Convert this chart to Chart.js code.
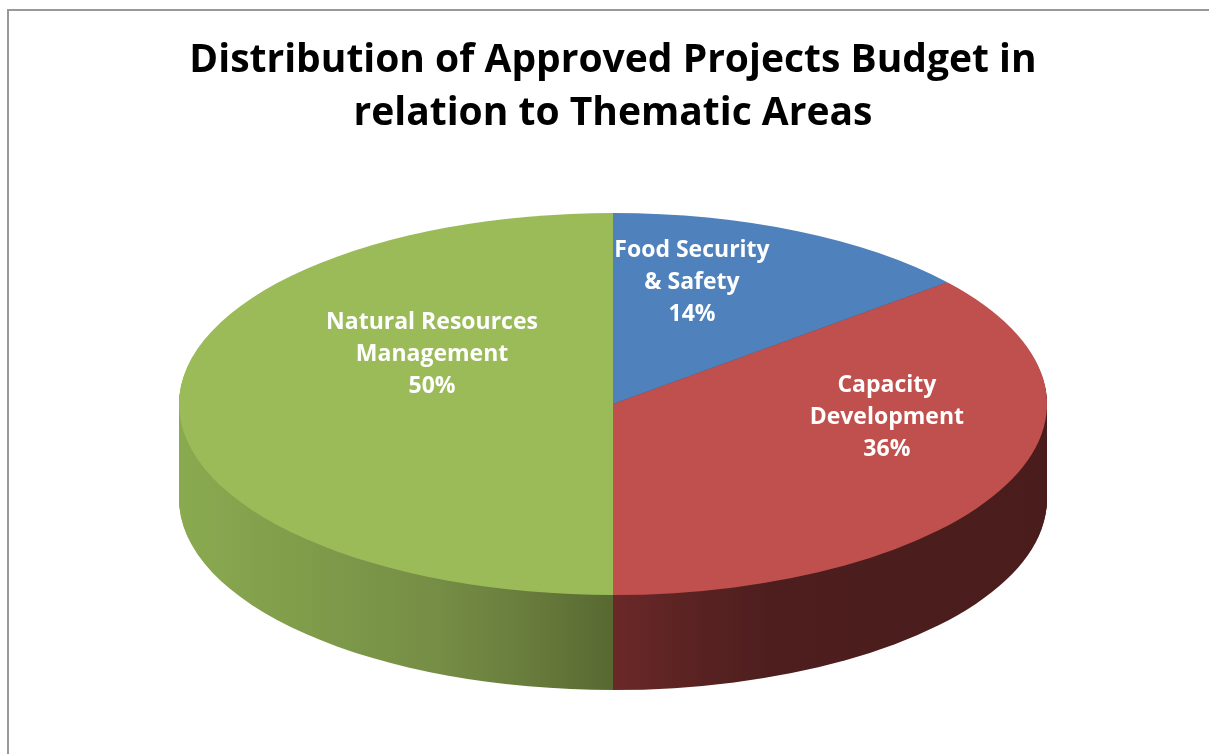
<!DOCTYPE html>
<html>
<head>
<meta charset="utf-8">
<script src="https://cdn.jsdelivr.net/npm/chart.js@4.4.1/dist/chart.umd.min.js"></script>
<style>
  html, body { margin: 0; padding: 0; background: #fff; overflow: hidden; }
  #wrap { position: absolute; left: 0; top: 0; width: 1209px; height: 754px; }
  #frame { position: absolute; left: 7px; top: 9px; width: 1260px; height: 800px; border: 2px solid #999; box-sizing: border-box; }
  canvas { position: absolute; left: 0; top: 0; }
</style>
</head>
<body>
<div id="wrap">
  <div id="frame"></div>
  <canvas id="c" width="1209" height="754"></canvas>
</div>
<script>
// ---- data ----
const titleLines = ['Distribution of Approved Projects Budget in', 'relation to Thematic Areas'];
const categories = ['Food Security & Safety', 'Capacity Development', 'Natural Resources Management'];
const labelLines = [['Food Security', '& Safety'], ['Capacity', 'Development'], ['Natural Resources', 'Management']];
const shares = [14, 36, 50];
const topColors = ['#4f81bd', '#c0504d', '#9bbb59'];

// ---- styling of the 3D projection ----
const RX = 434, RY = 191, DEPTH = 95;
const sideStops = [
  [[0, '#3a5f8c'], [1, '#2e4c70']],
  [[0.5, '#6b2828'], [0.58, '#5c2323'], [0.68, '#4e1e1e'], [1, '#4a1c1c']],
  [[0, '#8aaa50'], [0.15, '#7f9c4a'], [0.3, '#758d45'], [0.42, '#66793b'], [0.5, '#576930']]
];
// label anchors in units of (RX, RY) from pie centre
const labelAnchor = [[0.182, -0.634], [0.631, 0.068], [-0.417, -0.257]];

const pie3d = {
  id: 'pie3d',
  beforeDatasetsDraw(chart) {
    const ctx = chart.ctx;
    const arcs = chart.getDatasetMeta(0).data;
    if (!arcs.length) return;
    const cx = arcs[0].x, cy = arcs[0].y, r = arcs[0].outerRadius;
    const sx = RX / r, sy = RY / r;
    const grads = sideStops.map(stops => {
      const g = ctx.createLinearGradient(cx - r, 0, cx + r, 0);
      stops.forEach(([o, c]) => g.addColorStop(o, c));
      return g;
    });
    for (let d = DEPTH; d >= 1; d--) {
      ctx.save();
      ctx.translate(cx, cy + d);
      ctx.scale(sx, sy);
      ctx.translate(-cx, -cy);
      arcs.forEach((a, i) => {
        const o = a.options;
        const bg = o.backgroundColor;
        o.backgroundColor = grads[i];
        a.draw(ctx);
        o.backgroundColor = bg;
      });
      ctx.restore();
    }
    ctx.save();
    ctx.translate(cx, cy);
    ctx.scale(sx, sy);
    ctx.translate(-cx, -cy);
  },
  afterDatasetsDraw(chart) {
    const ctx = chart.ctx;
    ctx.restore();
    const arcs = chart.getDatasetMeta(0).data;
    if (!arcs.length) return;
    const cx = arcs[0].x, cy = arcs[0].y;
    ctx.save();
    ctx.fillStyle = '#ffffff';
    ctx.font = 'bold 23px "Open Sans"';
    ctx.textAlign = 'center';
    ctx.textBaseline = 'middle';
    const lh = 32;
    shares.forEach((v, i) => {
      const lines = labelLines[i].concat([v + '%']);
      const x = cx + labelAnchor[i][0] * RX;
      const y = cy + labelAnchor[i][1] * RY;
      lines.forEach((t, k) => ctx.fillText(t, x, y + (k - (lines.length - 1) / 2) * lh));
    });
    ctx.restore();
  }
};

new Chart(document.getElementById('c'), {
  type: 'pie',
  data: {
    labels: categories,
    datasets: [{
      data: shares,
      backgroundColor: topColors,
      borderWidth: 0,
      hoverOffset: 0,
      clip: false
    }]
  },
  options: {
    responsive: false,
    animation: false,
    events: [],
    rotation: 0,
    layout: { padding: { left: 17, right: 0, top: 0, bottom: 94 } },
    plugins: {
      legend: { display: false },
      tooltip: { enabled: false },
      title: {
        display: true,
        text: titleLines,
        color: '#000',
        font: { family: 'Open Sans', size: 39, weight: 'bold', lineHeight: 1.36 },
        padding: { top: 34, bottom: 8 }
      }
    }
  },
  plugins: [pie3d]
});
</script>
</body>
</html>
